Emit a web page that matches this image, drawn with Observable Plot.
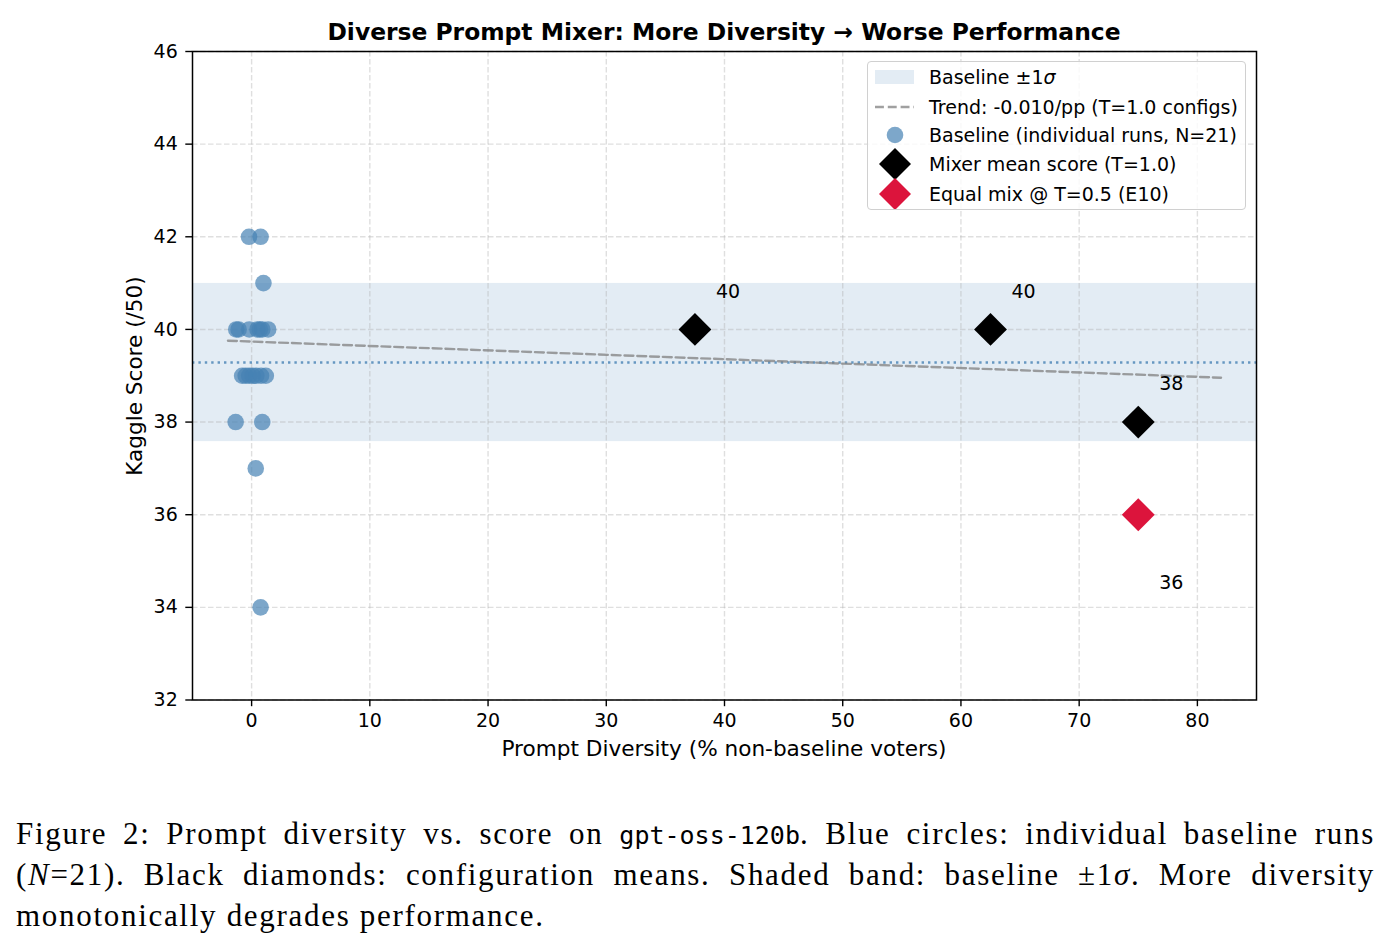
<!DOCTYPE html>
<html>
<head>
<meta charset="utf-8">
<script src="https://cdn.jsdelivr.net/npm/d3@7"></script>
<script src="https://cdn.jsdelivr.net/npm/@observablehq/plot@0.6"></script>
<style>
  html, body { margin: 0; padding: 0; background: #fff; }
  #fig { position: relative; width: 1391px; height: 947px; font-family: "DejaVu Sans", sans-serif; color: #000; overflow: hidden; }
  #chart { position: absolute; left: 0; top: 0; }
  .abs { position: absolute; white-space: nowrap; line-height: 1; }
  #title { left: 192px; width: 1064px; top: 21px; text-align: center; font-weight: bold; font-size: 23.4px; }
  #xlabel { left: 192px; width: 1064px; top: 738px; text-align: center; font-size: 21.6px; }
  #ylabel { left: 135px; top: 376px; font-size: 21.6px; transform: translate(-50%, -50%) rotate(-90deg); }
  #legend { left: 867px; top: 61px; width: 377px; height: 147px; border: 1px solid #d0d0d0; border-radius: 4px; background: rgba(255,255,255,0.8); }
  #legend .item { position: absolute; left: 61px; font-size: 19px; transform: translateY(-50%); white-space: nowrap; }
  #legend svg { position: absolute; left: 0; top: 0; }
  #caption { left: 16px; top: 813px; width: 1359px; font-family: "Liberation Serif", serif; font-size: 31px; letter-spacing: 1.7px; white-space: normal; }
  #caption .ln { height: 41px; line-height: 41px; text-align: justify; text-align-last: justify; white-space: nowrap; }
  #caption .ln.last { text-align: left; text-align-last: left; }
  #caption code { font-family: "DejaVu Sans Mono", monospace; font-size: 25px; letter-spacing: 0; }
</style>
</head>
<body>
<div id="fig">
  <div id="chart"></div>
  <div id="title" class="abs">Diverse Prompt Mixer: More Diversity → Worse Performance</div>
  <div id="xlabel" class="abs">Prompt Diversity (% non-baseline voters)</div>
  <div id="ylabel" class="abs">Kaggle Score (/50)</div>
  <div id="legend" class="abs"></div>
  <div id="caption" class="abs">
    <div class="ln">Figure 2: Prompt diversity vs. score on <code>gpt-oss-120b</code>. Blue circles: individual baseline runs</div>
    <div class="ln">(<i>N</i>=21). Black diamonds: configuration means. Shaded band: baseline ±1<i>σ</i>. More diversity</div>
    <div class="ln last">monotonically degrades performance.</div>
  </div>
</div>
<script>
// Baseline runs: all at 0% diversity, x jittered so the 21 runs stay visible
const baselineJitter = [-0.22, 0.76, 1.0, -1.3, -1.1, -0.2, 0.5, 0.7, 0.9, 1.4, -0.8, -0.5, -0.2, 0.1, 0.4, 0.8, 1.2, -1.35, 0.9, 0.35, 0.76];
const baselineScore  = [42, 42, 41, 40, 40, 40, 40, 40, 40, 40, 39, 39, 39, 39, 39, 39, 39, 38, 38, 37, 34];

// Mixer configurations at T=1.0 (mean score per config)
const mixerDiversity = [37.5, 62.5, 75];
const mixerScore     = [40, 40, 38];

// Equal mix at T=0.5 (E10)
const equalDiversity = [75];
const equalScore     = [36];

const xTicks = [0, 10, 20, 30, 40, 50, 60, 70, 80];
const yTicks = [32, 34, 36, 38, 40, 42, 44, 46];
const xDomain = [-5, 85];
const yDomain = [32, 46];
const trendSpan = [-2, 82];

const baseline = baselineJitter.map((x, i) => ({x, y: baselineScore[i]}));
const mixer = mixerDiversity.map((x, i) => ({x, y: mixerScore[i]}));
const equal = equalDiversity.map((x, i) => ({x, y: equalScore[i]}));

const mean = d3.mean(baselineScore);
const sd = d3.deviation(baselineScore);

// Least-squares trend over the T=1.0 configs (baseline mean at 0% plus mixers)
const fitPts = [{x: 0, y: mean}, ...mixer];
const mx = d3.mean(fitPts, d => d.x), my = d3.mean(fitPts, d => d.y);
const slope = d3.sum(fitPts, d => (d.x - mx) * (d.y - my)) / d3.sum(fitPts, d => (d.x - mx) ** 2);
const intercept = my - slope * mx;
const trend = trendSpan.map(x => ({x, y: intercept + slope * x}));

const steel = "#4682b4";
const font = "DejaVu Sans, sans-serif";

const chart = Plot.plot({
  width: 1391,
  height: 780,
  marginLeft: 192,
  marginRight: 135,
  marginTop: 51,
  marginBottom: 80.5,
  style: {fontFamily: font, fontSize: "19px", background: "transparent", color: "#000"},
  x: {domain: xDomain, ticks: xTicks, label: null},
  y: {domain: yDomain, ticks: yTicks, label: null},
  marks: [
    Plot.rect([{y1: mean - sd, y2: mean + sd}], {x1: () => xDomain[0], x2: () => xDomain[1], y1: "y1", y2: "y2", fill: steel, fillOpacity: 0.15}),
    Plot.gridX(xTicks, {stroke: "#b0b0b0", strokeOpacity: 0.4, strokeDasharray: "5.5,2.5", strokeWidth: 1.4}),
    Plot.gridY(yTicks, {stroke: "#b0b0b0", strokeOpacity: 0.4, strokeDasharray: "5.5,2.5", strokeWidth: 1.4}),
    Plot.ruleY([mean], {stroke: steel, strokeOpacity: 0.8, strokeWidth: 2.4, strokeDasharray: "2.4,4"}),
    Plot.line(trend, {x: "x", y: "y", stroke: "#808080", strokeOpacity: 0.75, strokeWidth: 2.4, strokeDasharray: "8.9,3.9"}),
    Plot.dot(baseline, {x: "x", y: "y", r: 8.3, fill: steel, fillOpacity: 0.7, stroke: "none"}),
    Plot.dot(mixer, {x: "x", y: "y", symbol: "diamond2", r: 14.8, fill: "#000", stroke: "none"}),
    Plot.dot(equal, {x: "x", y: "y", symbol: "diamond2", r: 14.8, fill: "crimson", stroke: "none"}),
    Plot.text(mixer, {x: "x", y: "y", text: d => String(d.y), dx: 21, dy: -38, textAnchor: "start", fontSize: 19, fill: "#000"}),
    Plot.text(equal, {x: "x", y: "y", text: d => String(d.y), dx: 21, dy: 68, textAnchor: "start", fontSize: 19, fill: "#000"}),
    Plot.axisX(xTicks, {tickSize: 6.7, tickPadding: 7, fontSize: 19, label: null, stroke: "#000", strokeWidth: 1.4}),
    Plot.axisY(yTicks, {tickSize: 6.7, tickPadding: 8, fontSize: 19, label: null, stroke: "#000", strokeWidth: 1.4}),
    Plot.frame({stroke: "#000", strokeWidth: 1.5})
  ]
});
document.getElementById("chart").appendChild(chart);

// Legend
const legend = document.getElementById("legend");
const rows = [
  {cy: 15, label: "Baseline ±1<i>σ</i>", swatch: `<rect x="7" y="8" width="39" height="14" fill="${steel}" fill-opacity="0.15"/>`},
  {cy: 45, label: "Trend: -0.010/pp (T=1.0 configs)", swatch: `<line x1="7" x2="46" y1="45" y2="45" stroke="#808080" stroke-opacity="0.75" stroke-width="2.4" stroke-dasharray="8.9,3.9"/>`},
  {cy: 73, label: "Baseline (individual runs, N=21)", swatch: `<circle cx="27" cy="73" r="8.3" fill="${steel}" fill-opacity="0.7"/>`},
  {cy: 102, label: "Mixer mean score (T=1.0)", swatch: `<path d="M27,86 L43,102 L27,118 L11,102 Z" fill="#000"/>`},
  {cy: 132, label: "Equal mix @ T=0.5 (E10)", swatch: `<path d="M27,116 L43,132 L27,148 L11,132 Z" fill="crimson"/>`}
];
legend.innerHTML =
  `<svg width="377" height="147">${rows.map(r => r.swatch).join("")}</svg>` +
  rows.map(r => `<div class="item" style="top:${r.cy}px">${r.label}</div>`).join("");
</script>
</body>
</html>
